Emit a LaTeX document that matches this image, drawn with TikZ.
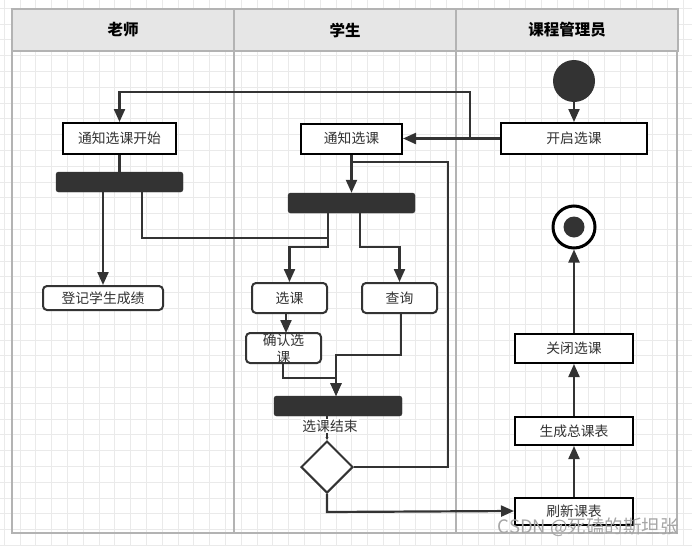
\documentclass[tikz,border=0pt]{standalone}
\usepackage{fontspec}
\setmainfont{Noto Sans CJK SC}
\usetikzlibrary{arrows.meta,shapes.geometric}
\definecolor{dk}{HTML}{333333}
\definecolor{gridc}{HTML}{EAEAEA}
\definecolor{hdr}{HTML}{E6E6E6}
\definecolor{lane}{HTML}{B3B3B3}
\tikzset{
  lbl/.style={font=\fontsize{13.8}{17}\selectfont, text=dk},
  sqbox/.style={draw=black, line width=2pt, fill=white, inner sep=0pt, lbl},
  rdbox/.style={draw=dk, line width=2pt, fill=white, rounded corners=4pt, inner sep=0pt, lbl},
  barnode/.style={fill=dk, draw=dk, rounded corners=2.5pt, inner sep=0pt, minimum height=20pt},
  conn/.style={draw=dk, line width=2.2pt},
  arr/.style={conn, -{Triangle[length=13pt,width=11pt]}},
  hdrbox/.style={draw=lane, line width=2pt, fill=hdr, inner sep=0pt, minimum height=42pt, minimum width=222pt, font=\fontsize{15.5}{18}\selectfont\bfseries},
}
\begin{document}
\begin{tikzpicture}[x=1pt,y=-1pt]
\useasboundingbox (0,0) rectangle (692,546);
\fill[white] (0,0) rectangle (692,546);
% grid
\foreach \i in {0,...,43} {\draw[gridc, line width=0.9pt] (4.2+15.8*\i,0) -- (4.2+15.8*\i,546);}
\foreach \j in {0,...,34} {\draw[gridc, line width=0.9pt] (0,8.2+15.8*\j) -- (692,8.2+15.8*\j);}
% swimlanes
\node[hdrbox] (h1) at (123,30) {老师};
\node[hdrbox] (h2) at (345,30) {学生};
\node[hdrbox] (h3) at (567,30) {课程管理员};
\draw[lane, line width=2pt] (12,51) rectangle (234,533);
\draw[lane, line width=2pt] (234,51) rectangle (456,533);
\draw[lane, line width=2pt] (456,51) rectangle (677,533);

% nodes
\node[sqbox, minimum width=113pt, minimum height=31pt] (tA) at (119.5,138.5) {通知选课开始};
\node[barnode, minimum width=127pt] (barT) at (119.5,182) {};
\node[rdbox, minimum width=120pt, minimum height=24pt] (reg) at (103,298) {登记学生成绩};
\node[sqbox, minimum width=101pt, minimum height=30pt] (sN) at (351.5,138.5) {通知选课};
\node[barnode, minimum width=127pt] (barS) at (351.5,203) {};
\node[rdbox, minimum width=75pt, minimum height=30pt] (xk) at (289.5,298) {选课};
\node[rdbox, minimum width=75pt, minimum height=30pt] (cx) at (399.5,298) {查询};
\node[rdbox, minimum width=75pt, minimum height=30pt] (qr) at (283.5,348) {};
\node[lbl, align=center, inner sep=0pt] (qrt) at (283.5,349) {确认选\\课};
\node[barnode, minimum width=128pt] (barS2) at (338,406) {};
\node[diamond, draw=dk, line width=2pt, fill=white, minimum width=52pt, minimum height=52pt, inner sep=0pt] (dia) at (327,467) {};
\node[circle, fill=dk, minimum size=42pt, inner sep=0pt] (st) at (574,81) {};
\node[sqbox, minimum width=146pt, minimum height=31pt] (kq) at (574,138.5) {开启选课};
\node[circle, draw=black, line width=3pt, fill=white, minimum size=42pt, inner sep=0pt] (en) at (574,227) {};
\node[circle, fill=dk, minimum size=21pt, inner sep=0pt] (enc) at (574,227) {};
\node[sqbox, minimum width=118pt, minimum height=29pt] (gb) at (574,348.5) {关闭选课};
\node[sqbox, minimum width=118pt, minimum height=28pt] (sc) at (574,431) {生成总课表};
\node[sqbox, minimum width=118pt, minimum height=27pt] (sx) at (574,511) {刷新课表};

% connectors
\draw[arr] (st) -- (kq);
\draw[arr] (kq.west) -- (sN.east);
\coordinate (j1) at (470,138.5);
\draw[arr] (j1) -- (470,92) -| (tA.north);
\draw[conn] (tA) -- (barT);
\draw[arr] (barT.south -| reg.north) -- (reg.north);
\coordinate (m1) at (328,238);
\draw[conn] (142,192) -- (142,238) -- (m1);
\draw[arr] (sN.south) -- (barS.north);
\draw[arr] (328,213) -- (328,247) -| (xk.north);
\draw[arr] (360,213) -- (360,247) -| (cx.north);
\draw[arr] (286,313) -- (286,333);
\draw[arr] (283,363) -- (283,378) -| (336,396);
\draw[arr] (401,313) -- (401,355) -| (336,396);
\draw[conn, -{Triangle[length=3pt,width=3pt]}] (327,416) -- (dia.north);
\node[lbl, fill=white, inner sep=1pt] (lb) at (330,426) {选课结束};
\draw[conn] (dia.east) -- (448,467) -- (448,162) -- (352,162);
\draw[arr] (dia.south) -- (327,512) -- (sx.west);
\draw[arr] (sx) -- (sc);
\draw[arr] (sc) -- (gb);
\draw[arr] (gb) -- (en);
% watermark
\node[font=\fontsize{18.5}{20}\selectfont, text=gray!70, anchor=east, inner sep=0pt] (wm) at (679,527) {CSDN @死磕的斯坦张};
\end{tikzpicture}
\end{document}
